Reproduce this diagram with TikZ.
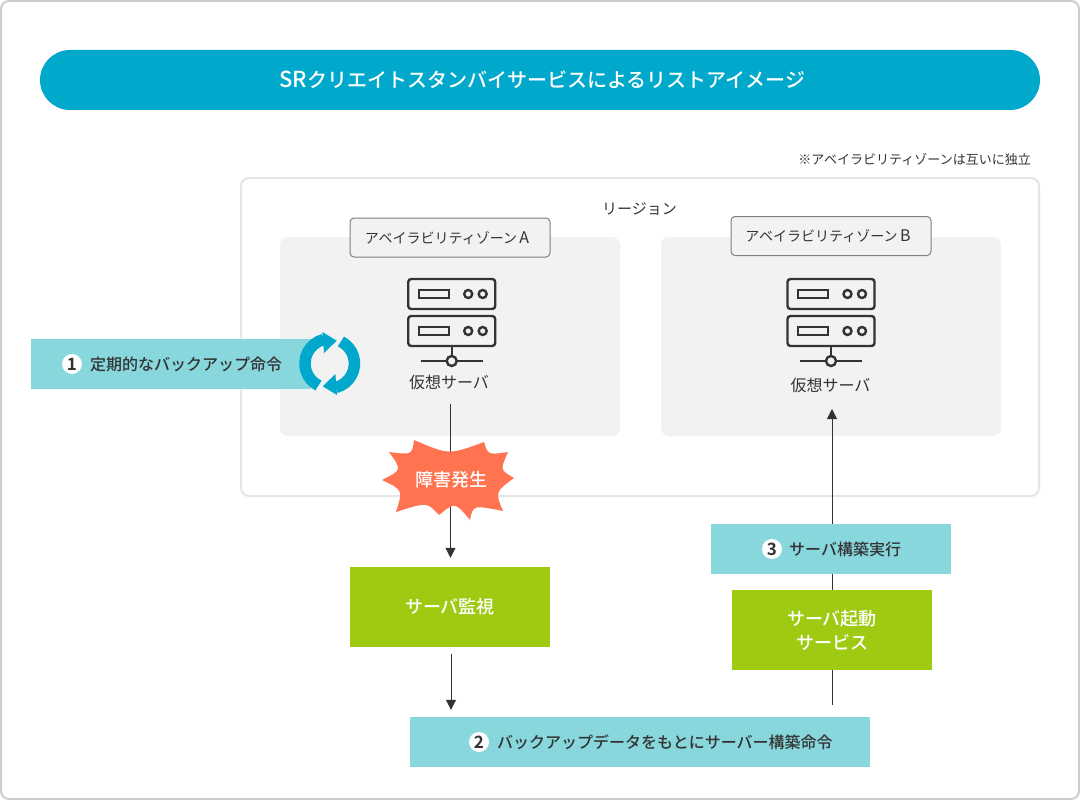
\documentclass[tikz,border=0pt]{standalone}
\usepackage{fontspec}
\setmainfont{Noto Sans CJK JP}[BoldFont={Noto Sans CJK JP Medium}]
\newfontfamily\badgefont{Noto Sans CJK JP Bold}
\usetikzlibrary{arrows.meta}
\definecolor{titleblue}{HTML}{00A9CC}
\definecolor{labelcyan}{HTML}{88D7DD}
\definecolor{svcgreen}{HTML}{9ECA12}
\definecolor{burstred}{HTML}{FF7350}
\definecolor{zonegray}{HTML}{F2F2F2}
\definecolor{inkgray}{HTML}{333333}
\newcommand{\fs}[1]{\fontsize{#1}{#1}\selectfont}
\tikzset{
	x=1pt, y=-1pt,
	plainbox/.style={draw=none, inner sep=0pt, text=inkgray},
	stepbox/.style={plainbox, fill=labelcyan, minimum height=50pt},
	svcbox/.style={plainbox, fill=svcgreen, minimum width=200pt, minimum height=80pt},
	svctext/.style={plainbox, text=white, font=\fs{18}\bfseries},
	steptext/.style={plainbox, anchor=west, font=\fs{16}\bfseries},
	badge/.style={circle, fill=white, minimum size=20pt, inner sep=0pt, text=inkgray, font=\fs{17}\badgefont},
	zonebox/.style={fill=zonegray, rounded corners=8pt, draw=none},
	zonetag/.style={draw=black!50, line width=1pt, fill=zonegray, rounded corners=4pt, minimum width=200pt, minimum height=39pt, inner sep=0pt},
	tagtext/.style={plainbox, font=\fs{14}},
	flowline/.style={draw=inkgray, line width=1pt, -{Triangle[width=10pt,length=10pt]}},
	iconline/.style={draw=inkgray, line width=2.4pt},
	pics/serverIcon/.style={code={
		\foreach \rowy in {0,37}{
			\draw[iconline, rounded corners=3pt] (-43.5,-82+\rowy) rectangle (43.5,-52+\rowy);
			\draw[iconline] (-33,-71+\rowy) rectangle (-3,-63+\rowy);
			\draw[iconline] (16.5,-67+\rowy) circle[radius=4];
			\draw[iconline] (31,-67+\rowy) circle[radius=4];
		}
		\draw[iconline] (0,-15) -- (0,0);
		\draw[iconline] (-31,0) -- (31,0);
		\draw[iconline, fill=zonegray] (0,0) circle[radius=5];
	}}
}
\begin{document}
\begin{tikzpicture}
	\useasboundingbox (0,0) rectangle (1080,800);
	\draw[draw=black!20, line width=2pt, fill=white, rounded corners=8pt] (1,1) rectangle (1079,799);

	\node[plainbox, fill=titleblue, minimum width=1000pt, minimum height=60pt, rounded corners=30pt] (titleBar) at (540,80) {};
	\node[plainbox, text=white, font=\fs{20}\bfseries] (txtTitle) at (542.5,80) {{\fs{22}SR}クリエイトスタンバイサービスによるリストアイメージ};

	\node[plainbox, anchor=east, font=\fs{13}] (noteZone) at (1031,159) {※アベイラビリティゾーンは互いに独立};
	\draw[draw=black!10, line width=2pt, rounded corners=8pt] (241,178) rectangle (1039,496);
	\node[plainbox, font=\fs{15}] (txtRegion) at (639.5,208.5) {リージョン};

	\fill[zonebox] (280,237) rectangle (620,436);
	\fill[zonebox] (661,237) rectangle (1001,436);
	\node[zonetag] (tagA) at (450,237.5) {};
	\node[zonetag] (tagB) at (831,236) {};
	\node[tagtext] (txtTagA) at (447,238) {アベイラビリティゾーン\,{\fs{16}A}};
	\node[tagtext] (txtTagB) at (828,236) {アベイラビリティゾーン\,{\fs{16}B}};

	\pic at (451.7,361) {serverIcon};
	\pic at (831,361) {serverIcon};
	\node[plainbox, font=\fs{16}] (txtServerA) at (449,382) {仮想サーバ};
	\node[plainbox, font=\fs{16}] (txtServerB) at (830.5,385) {仮想サーバ};

	\node[svcbox] (boxMonitor) at (450,607) {};
	\node[stepbox, minimum width=460pt] (boxCmd) at (640,742) {};

	\coordinate (failTop) at (450.5,404);
	\coordinate (bootFoot) at (832,705);
	\coordinate (zoneBEntry) at (832,409);
	\draw[flowline, shorten >=9pt] (failTop) -- (failTop |- boxMonitor.north);
	\draw[flowline, shorten <=7pt, shorten >=7pt] ([xshift=1pt]boxMonitor.south) -- ([xshift=1pt]boxMonitor.south |- boxCmd.north);
	\draw[flowline] (bootFoot) -- (zoneBEntry);

	\node[stepbox, minimum width=240pt] (boxExec) at (831,549) {};
	\node[svcbox] (boxBoot) at (832,630) {};
	\node[svctext] (txtMonitor) at (450,607) {サーバ監視};
	\node[svctext] (txtBoot1) at (832,619) {サーバ起動};
	\node[svctext] (txtBoot2) at (832,642) {サービス};

	\node[stepbox, minimum width=280pt] (boxBackup) at (171,364) {};

	\node[badge] (badgeOne) at (72,364) {1};
	\node[steptext] (txtBackup) at (90,364) {定期的なバックアップ命令};
	\node[badge] (badgeTwo) at (479,742) {2};
	\node[steptext] (txtCmd) at (497,742) {バックアップデータをもとにサーバー構築命令};
	\node[badge] (badgeThree) at (772,549) {3};
	\node[steptext] (txtExec) at (789,549) {サーバ構築実行};

	\fill[burstred] (414,440) .. controls (449,455) .. (484,442)
		.. controls (488,455) .. (508,452)
		.. controls (500,470) .. (514,478)
		.. controls (495,492) .. (503,511)
		.. controls (473,505) .. (470,520)
		.. controls (455,502) .. (439,515)
		.. controls (427,502) .. (396,512)
		.. controls (403,490) .. (382,480)
		.. controls (402,470) .. (389,452)
		.. controls (412,455) .. cycle;
	\node[svctext] (txtFail) at (451,480) {障害発生};

	\foreach \ang in {0,180}{
		\begin{scope}[shift={(329.7,363.5)}, rotate=\ang]
			\draw[draw=titleblue, line width=11.5pt] (117:24.75) arc[start angle=117, end angle=256, radius=24.75];
			\fill[titleblue] (-7.3,-31.5) -- (7,-22.8) -- (-5.7,-10.5) -- cycle;
		\end{scope}
	}
\end{tikzpicture}
\end{document}
